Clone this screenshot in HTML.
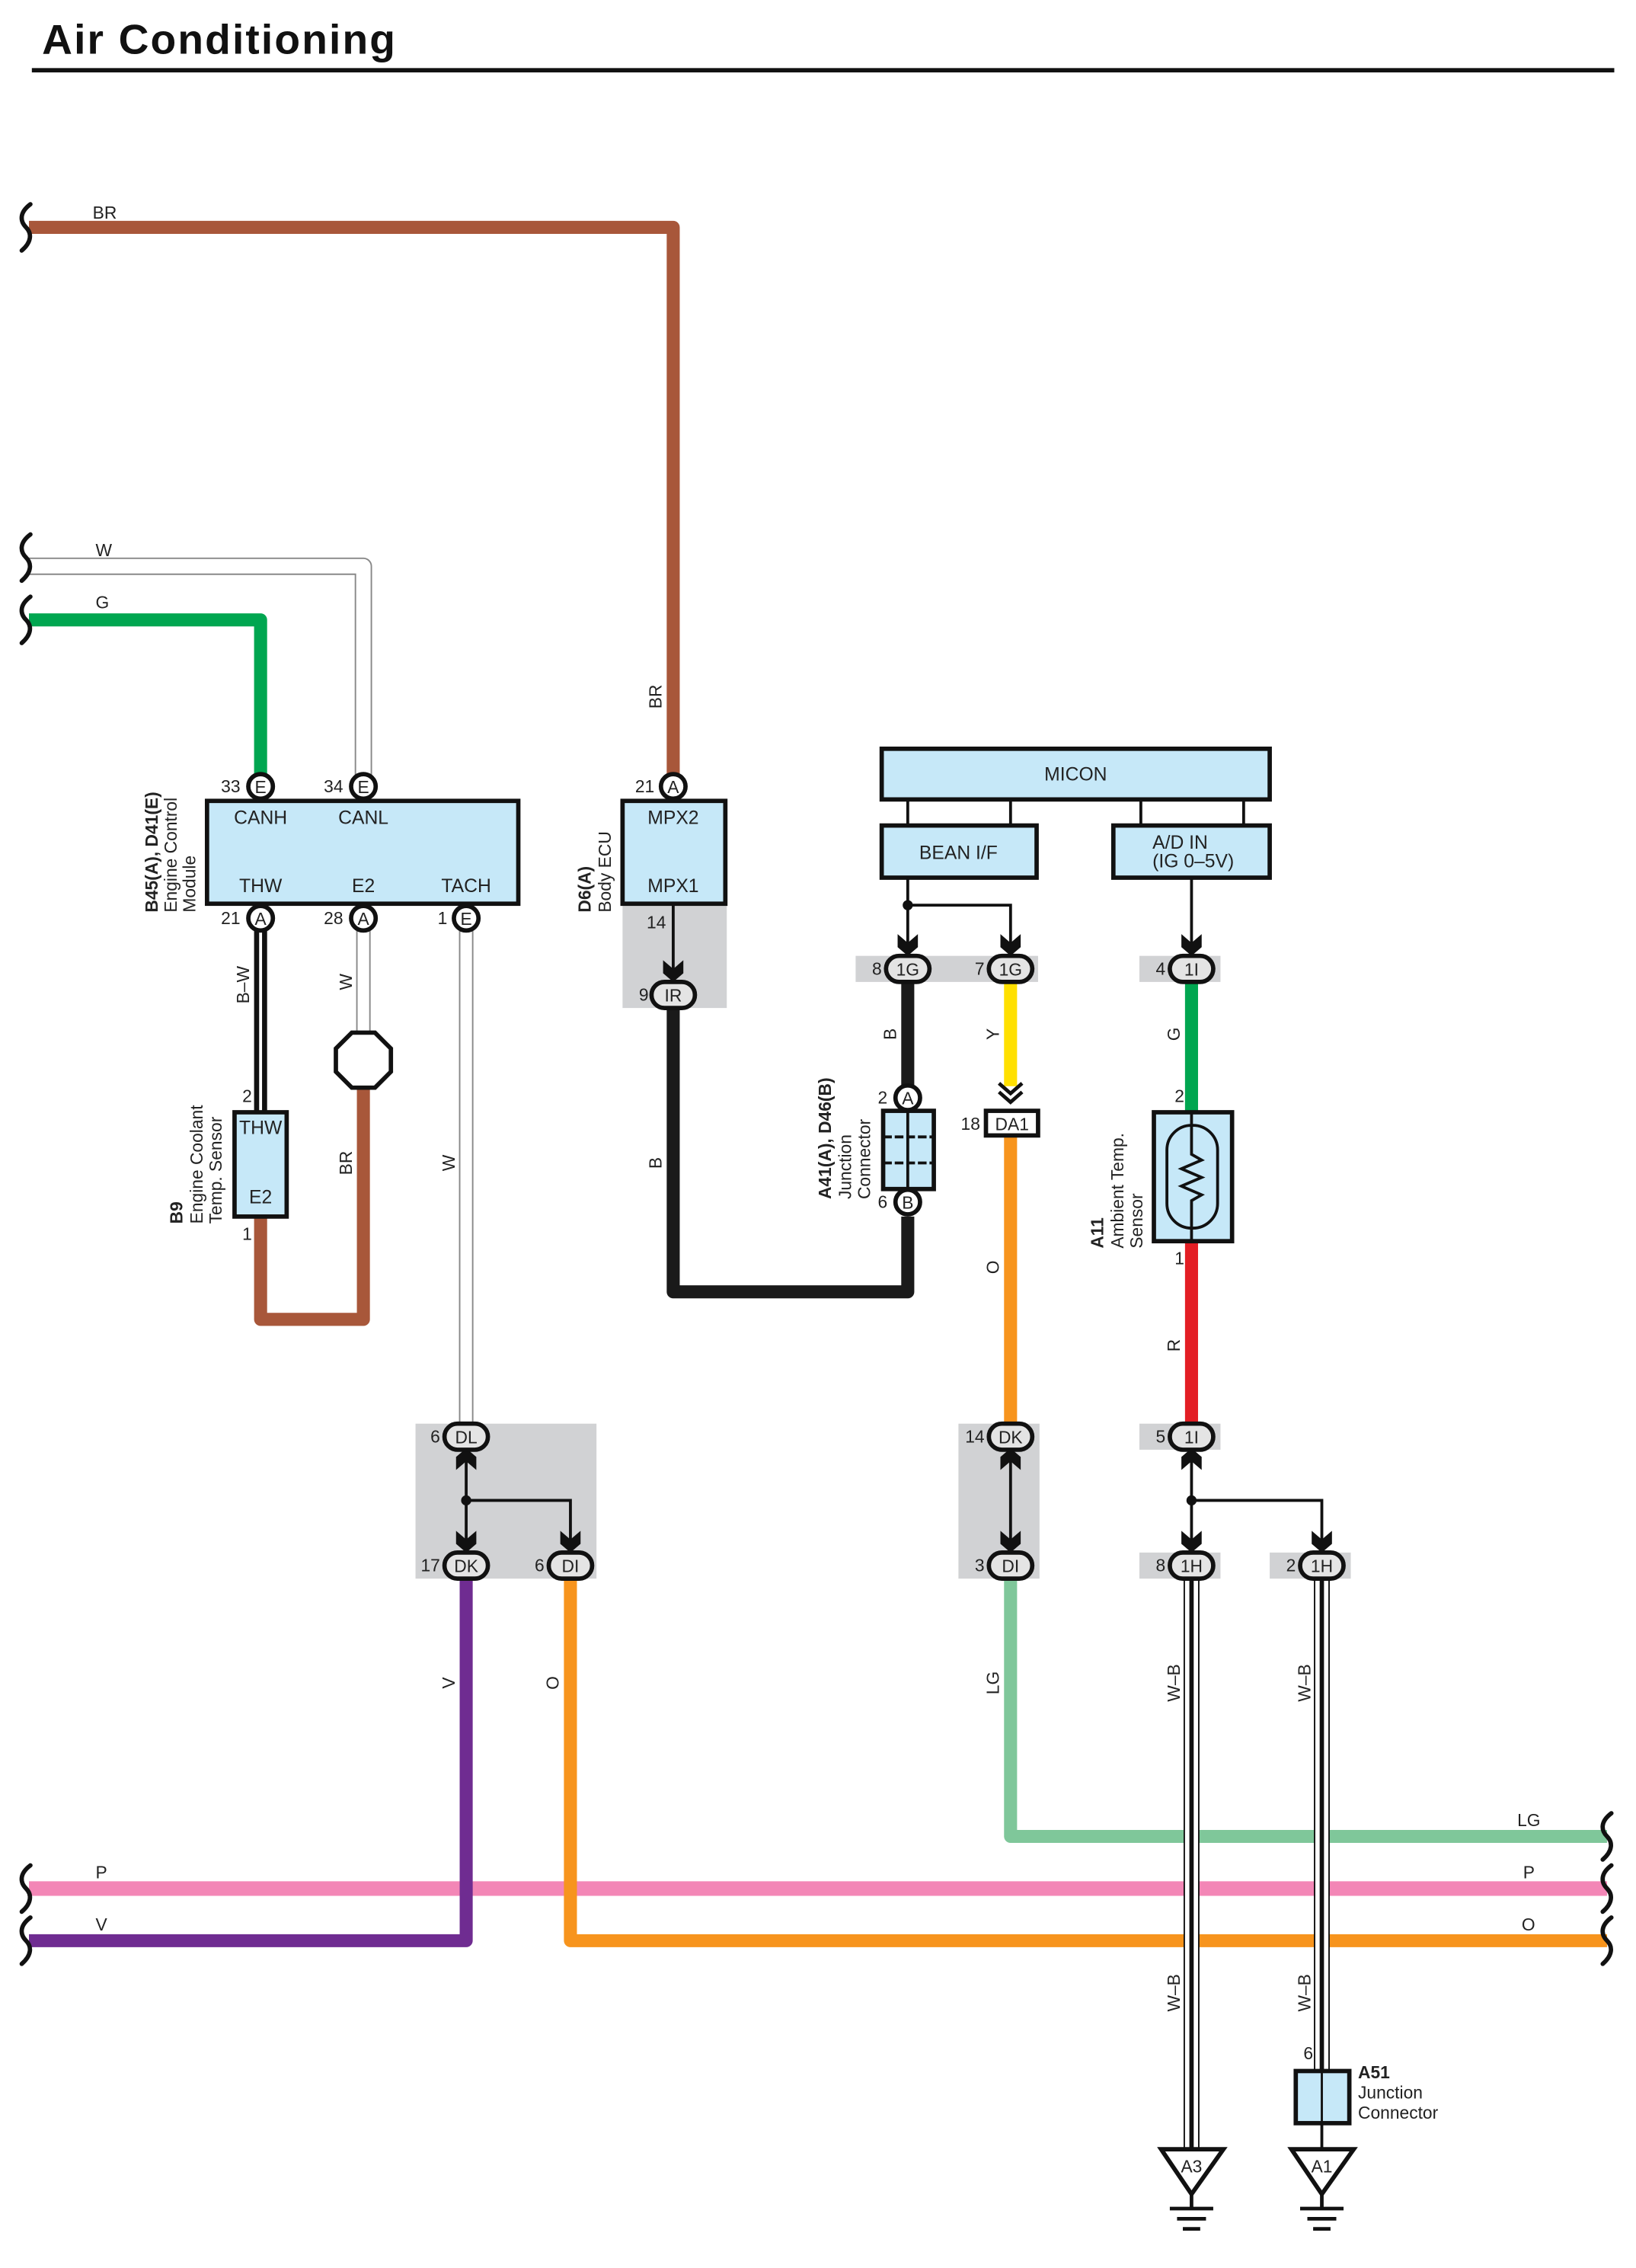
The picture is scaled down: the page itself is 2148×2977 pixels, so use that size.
<!DOCTYPE html>
<html><head><meta charset="utf-8"><style>
html,body{margin:0;padding:0;background:#fff;}
svg{display:block;}
text{font-family:"Liberation Sans",sans-serif;fill:#222;}
</style></head><body>
<svg width="2148" height="2977" viewBox="0 0 1130 1566" preserveAspectRatio="none" xmlns="http://www.w3.org/2000/svg">
<defs>
<path id="ad" d="M-7,-15 L0,-9 L7,-15 L7,-6 L0,0 L-7,-6 Z" fill="#111"/>
<path id="au" d="M-7,15 L0,9 L7,15 L7,6 L0,0 L-7,6 Z" fill="#111"/>
<path id="brk" d="M3,-16 C-5,-10 -4,-4 0,0 C4,4 4,10 -3,16" fill="none" stroke="#111" stroke-width="3" stroke-linecap="round"/>
</defs>
<text x="29" y="37" font-size="29" font-weight="bold" textLength="244" style="fill:#111">Air Conditioning</text>
<rect x="22" y="47" width="1093" height="3" fill="#111"/>

<!-- gray backgrounds -->
<g fill="#d1d2d4">
<rect x="430" y="625" width="72" height="71"/>
<rect x="591" y="660" width="126" height="18"/>
<rect x="787" y="660" width="56" height="18"/>
<rect x="287" y="983" width="125" height="107"/>
<rect x="662" y="983" width="56" height="107"/>
<rect x="787" y="983" width="56" height="18"/>
<rect x="787" y="1072" width="56" height="18"/>
<rect x="877" y="1072" width="56" height="18"/>
</g>

<!-- wires -->
<g fill="none" stroke-linejoin="round" stroke-linecap="butt">
<path d="M20,157 H465 V535" stroke="#a8573a" stroke-width="9"/>
<path d="M20,428 H180 V535" stroke="#00a650" stroke-width="9"/>
<path d="M20,391 H251 V535" stroke="#888" stroke-width="12"/>
<path d="M20,391 H251 V535" stroke="#fff" stroke-width="10"/>
<path d="M180,642 V768" stroke="#111" stroke-width="9"/>
<path d="M180,642 V768" stroke="#fff" stroke-width="2"/>
<path d="M251,642 V713" stroke="#888" stroke-width="10"/>
<path d="M251,642 V713" stroke="#fff" stroke-width="8"/>
<path d="M180,840 V911 H251 V750" stroke="#a8573a" stroke-width="9"/>
<path d="M322,642 V983" stroke="#888" stroke-width="10"/>
<path d="M322,642 V983" stroke="#fff" stroke-width="8"/>
<path d="M465,696 V892 H627 V840" stroke="#1a1a1a" stroke-width="9"/>
<path d="M627,677 V750" stroke="#1a1a1a" stroke-width="9"/>
<path d="M698,677 V750" stroke="#ffe000" stroke-width="9"/>
<path d="M698,785 V983" stroke="#f7941d" stroke-width="9"/>
<path d="M823,677 V768" stroke="#00a650" stroke-width="9"/>
<path d="M823,857 V983" stroke="#e31e24" stroke-width="9"/>
<path d="M20,1304 H1110" stroke="#f386b6" stroke-width="10"/>
<path d="M698,1089 V1268 H1110" stroke="#7fc79a" stroke-width="9"/>
<path d="M322,1089 V1340 H20" stroke="#6f2c91" stroke-width="9"/>
<path d="M394,1089 V1340 H1110" stroke="#f7941d" stroke-width="9"/>
<path d="M823,1089 V1485" stroke="#111" stroke-width="11"/>
<path d="M823,1089 V1485" stroke="#fff" stroke-width="9"/>
<path d="M823,1089 V1485" stroke="#111" stroke-width="3"/>
<path d="M913,1089 V1430" stroke="#111" stroke-width="11"/>
<path d="M913,1089 V1430" stroke="#fff" stroke-width="9"/>
<path d="M913,1089 V1430" stroke="#111" stroke-width="3"/>
<path d="M913,1466 V1485" stroke="#111" stroke-width="2"/>
</g>

<!-- break marks -->
<use href="#brk" x="18" y="157"/>
<use href="#brk" x="18" y="385"/>
<use href="#brk" x="18" y="428"/>
<use href="#brk" x="18" y="1304"/>
<use href="#brk" x="18" y="1340"/>
<use href="#brk" x="1110" y="1268"/>
<use href="#brk" x="1110" y="1304"/>
<use href="#brk" x="1110" y="1340"/>

<!-- wire labels -->
<g font-size="12">
<text x="64" y="151">BR</text>
<text x="66" y="384">W</text>
<text x="66" y="420">G</text>
<text x="66" y="1297">P</text>
<text x="66" y="1333">V</text>
<text x="1048" y="1261">LG</text>
<text x="1052" y="1297">P</text>
<text x="1051" y="1333">O</text>
</g>
<g font-size="12" text-anchor="middle">
<text transform="translate(172,680) rotate(-90)">B–W</text>
<text transform="translate(243,678) rotate(-90)">W</text>
<text transform="translate(243,803) rotate(-90)">BR</text>
<text transform="translate(314,803) rotate(-90)">W</text>
<text transform="translate(457,481) rotate(-90)">BR</text>
<text transform="translate(457,803) rotate(-90)">B</text>
<text transform="translate(619,714) rotate(-90)">B</text>
<text transform="translate(690,714) rotate(-90)">Y</text>
<text transform="translate(690,875) rotate(-90)">O</text>
<text transform="translate(815,714) rotate(-90)">G</text>
<text transform="translate(815,929) rotate(-90)">R</text>
<text transform="translate(314,1162) rotate(-90)">V</text>
<text transform="translate(386,1162) rotate(-90)">O</text>
<text transform="translate(690,1162) rotate(-90)">LG</text>
<text transform="translate(815,1162) rotate(-90)">W–B</text>
<text transform="translate(905,1162) rotate(-90)">W–B</text>
<text transform="translate(815,1376) rotate(-90)">W–B</text>
<text transform="translate(905,1376) rotate(-90)">W–B</text>
</g>

<!-- ECM -->
<rect x="143" y="553" width="215" height="71" fill="#c6e8f8" stroke="#111" stroke-width="3"/>
<g font-size="13" text-anchor="middle">
<text x="180" y="569">CANH</text><text x="251" y="569">CANL</text>
<text x="180" y="616">THW</text><text x="251" y="616">E2</text><text x="322" y="616">TACH</text>
</g>
<g fill="#fff" stroke="#111" stroke-width="3">
<circle cx="180" cy="543" r="8.5"/><circle cx="251" cy="543" r="8.5"/>
<circle cx="180" cy="634" r="8.5"/><circle cx="251" cy="634" r="8.5"/><circle cx="322" cy="634" r="8.5"/>
<circle cx="465" cy="543" r="8.5"/>
<circle cx="627" cy="758" r="8.5"/><circle cx="627" cy="830" r="8.5"/>
</g>
<g font-size="12" text-anchor="middle">
<text x="180" y="547.5">E</text><text x="251" y="547.5">E</text>
<text x="180" y="638.5">A</text><text x="251" y="638.5">A</text><text x="322" y="638.5">E</text>
<text x="465" y="547.5">A</text>
<text x="627" y="762.5">A</text><text x="627" y="834.5">B</text>
</g>
<g font-size="12" text-anchor="end">
<text x="166" y="547">33</text><text x="237" y="547">34</text>
<text x="166" y="638">21</text><text x="237" y="638">28</text><text x="309" y="638">1</text>
<text x="452" y="547">21</text>
<text x="613" y="762">2</text><text x="613" y="834">6</text>
<text x="174" y="761">2</text><text x="174" y="856">1</text>
<text x="460" y="641">14</text>
<text x="818" y="761">2</text><text x="818" y="873">1</text>
<text x="907" y="1422">6</text>
</g>
<g font-size="12">
<text transform="translate(109,630) rotate(-90)" font-weight="bold">B45(A), D41(E)</text>
<text transform="translate(122,630) rotate(-90)">Engine Control</text>
<text transform="translate(135,630) rotate(-90)">Module</text>
<text transform="translate(126,845) rotate(-90)" font-weight="bold">B9</text>
<text transform="translate(140,845) rotate(-90)">Engine Coolant</text>
<text transform="translate(153,845) rotate(-90)">Temp.  Sensor</text>
<text transform="translate(408,630) rotate(-90)" font-weight="bold">D6(A)</text>
<text transform="translate(422,630) rotate(-90)">Body ECU</text>
<text transform="translate(574,828) rotate(-90)" font-weight="bold">A41(A), D46(B)</text>
<text transform="translate(588,828) rotate(-90)">Junction</text>
<text transform="translate(601,828) rotate(-90)">Connector</text>
<text transform="translate(762,862) rotate(-90)" font-weight="bold">A11</text>
<text transform="translate(776,862) rotate(-90)">Ambient Temp.</text>
<text transform="translate(789,862) rotate(-90)">Sensor</text>
<text x="938" y="1435" font-weight="bold">A51</text>
<text x="938" y="1449">Junction</text>
<text x="938" y="1463">Connector</text>
</g>

<!-- B9 sensor -->
<rect x="162" y="768" width="36" height="72" fill="#c6e8f8" stroke="#111" stroke-width="3"/>
<text x="180" y="783" font-size="13" text-anchor="middle">THW</text>
<text x="180" y="831" font-size="13" text-anchor="middle">E2</text>
<!-- octagon -->
<polygon points="243,713 259,713 270,724 270,740 259,751 243,751 232,740 232,724" fill="#fff" stroke="#111" stroke-width="3"/>

<!-- Body ECU -->
<rect x="430" y="553" width="71" height="71" fill="#c6e8f8" stroke="#111" stroke-width="3"/>
<text x="465" y="569" font-size="13" text-anchor="middle">MPX2</text>
<text x="465" y="616" font-size="13" text-anchor="middle">MPX1</text>
<line x1="465" y1="624" x2="465" y2="672" stroke="#111" stroke-width="2"/>
<use href="#ad" x="465" y="678"/>

<!-- MICON -->
<g stroke="#111" stroke-width="2">
<line x1="627" y1="552" x2="627" y2="570"/><line x1="698" y1="552" x2="698" y2="570"/>
<line x1="788" y1="552" x2="788" y2="570"/><line x1="859" y1="552" x2="859" y2="570"/>
<path d="M627,606 V654 M627,625 H698 V654 M823,606 V654" fill="none"/>
<path d="M322,1000 V1074 M322,1036 H394 V1074 M698,1000 V1074 M823,1000 V1074 M823,1036 H913 V1074" fill="none"/>
</g>
<circle cx="627" cy="625" r="3.5" fill="#111"/>
<circle cx="322" cy="1036" r="3.5" fill="#111"/>
<circle cx="823" cy="1036" r="3.5" fill="#111"/>
<rect x="609" y="517" width="268" height="35" fill="#c6e8f8" stroke="#111" stroke-width="3"/>
<rect x="609" y="570" width="107" height="36" fill="#c6e8f8" stroke="#111" stroke-width="3"/>
<rect x="769" y="570" width="108" height="36" fill="#c6e8f8" stroke="#111" stroke-width="3"/>
<g font-size="13" text-anchor="middle">
<text x="743" y="539">MICON</text>
<text x="662" y="593">BEAN I/F</text>
</g>
<text x="796" y="586" font-size="13">A/D IN</text>
<text x="796" y="599" font-size="13">(IG 0–5V)</text>

<use href="#ad" x="627" y="660"/><use href="#ad" x="698" y="660"/><use href="#ad" x="823" y="660"/>
<use href="#au" x="322" y="1000"/><use href="#ad" x="322" y="1072"/><use href="#ad" x="394" y="1072"/>
<use href="#au" x="698" y="1000"/><use href="#ad" x="698" y="1072"/>
<use href="#au" x="823" y="1000"/><use href="#ad" x="823" y="1072"/><use href="#ad" x="913" y="1072"/>

<!-- ovals -->
<g fill="#e4e4e4" stroke="#111" stroke-width="3">
<rect x="450" y="678" width="30" height="18" rx="9"/>
<rect x="612" y="660" width="30" height="18" rx="9"/>
<rect x="683" y="660" width="30" height="18" rx="9"/>
<rect x="808" y="660" width="30" height="18" rx="9"/>
<rect x="307" y="983" width="30" height="18" rx="9"/>
<rect x="307" y="1072" width="30" height="18" rx="9"/>
<rect x="379" y="1072" width="30" height="18" rx="9"/>
<rect x="683" y="983" width="30" height="18" rx="9"/>
<rect x="683" y="1072" width="30" height="18" rx="9"/>
<rect x="808" y="983" width="30" height="18" rx="9"/>
<rect x="808" y="1072" width="30" height="18" rx="9"/>
<rect x="898" y="1072" width="30" height="18" rx="9"/>
</g>
<g font-size="12" text-anchor="middle">
<text x="465" y="691.5">IR</text>
<text x="627" y="673.5">1G</text><text x="698" y="673.5">1G</text><text x="823" y="673.5">1I</text>
<text x="322" y="996.5">DL</text><text x="322" y="1085.5">DK</text><text x="394" y="1085.5">DI</text>
<text x="698" y="996.5">DK</text><text x="698" y="1085.5">DI</text>
<text x="823" y="996.5">1I</text><text x="823" y="1085.5">1H</text><text x="913" y="1085.5">1H</text>
</g>
<g font-size="12" text-anchor="end">
<text x="448" y="691">9</text>
<text x="609" y="673">8</text><text x="680" y="673">7</text><text x="805" y="673">4</text>
<text x="304" y="996">6</text><text x="304" y="1085">17</text><text x="376" y="1085">6</text>
<text x="680" y="996">14</text><text x="680" y="1085">3</text>
<text x="805" y="996">5</text><text x="805" y="1085">8</text><text x="895" y="1085">2</text>
<text x="677" y="780">18</text>
</g>

<!-- junction connector A41 -->
<rect x="610" y="767" width="35" height="54" fill="#c6e8f8" stroke="#111" stroke-width="3"/>
<line x1="627" y1="767" x2="627" y2="821" stroke="#111" stroke-width="2"/>
<line x1="610" y1="785" x2="645" y2="785" stroke="#111" stroke-width="2" stroke-dasharray="6,2"/>
<line x1="610" y1="803" x2="645" y2="803" stroke="#111" stroke-width="2" stroke-dasharray="6,2"/>

<!-- chevrons + DA1 -->
<path d="M690,748 L698,755 L706,748 M690,754 L698,761 L706,754" fill="none" stroke="#111" stroke-width="2.5"/>
<rect x="681" y="767" width="36" height="17" fill="#fff" stroke="#111" stroke-width="3"/>
<text x="699" y="780.5" font-size="12" text-anchor="middle">DA1</text>

<!-- A11 sensor -->
<rect x="797" y="768" width="54" height="89" fill="#c6e8f8" stroke="#111" stroke-width="3"/>
<rect x="806" y="777" width="35" height="71" rx="17" fill="none" stroke="#111" stroke-width="2"/>
<path d="M823,768 V797 L830,801 L816,807 L830,813 L816,819 L830,825 L823,829 V857" fill="none" stroke="#111" stroke-width="2"/>

<!-- A51 -->
<rect x="895" y="1430" width="37" height="36" fill="#c6e8f8" stroke="#111" stroke-width="3"/>
<line x1="913" y1="1430" x2="913" y2="1466" stroke="#111" stroke-width="1.5"/>

<!-- grounds -->
<g stroke="#111" fill="#fff">
<polygon points="802,1484 845,1484 823,1515" stroke-width="3"/>
<polygon points="892,1484 935,1484 913,1515" stroke-width="3"/>
<path d="M823,1515 V1525 M808,1525 H838 M813,1532 H833 M817,1539 H829 M913,1515 V1525 M898,1525 H928 M903,1532 H923 M907,1539 H919" stroke-width="2.5"/>
</g>
<text x="823" y="1500" font-size="12" text-anchor="middle">A3</text>
<text x="913" y="1500" font-size="12" text-anchor="middle">A1</text>
</svg>
</body></html>
